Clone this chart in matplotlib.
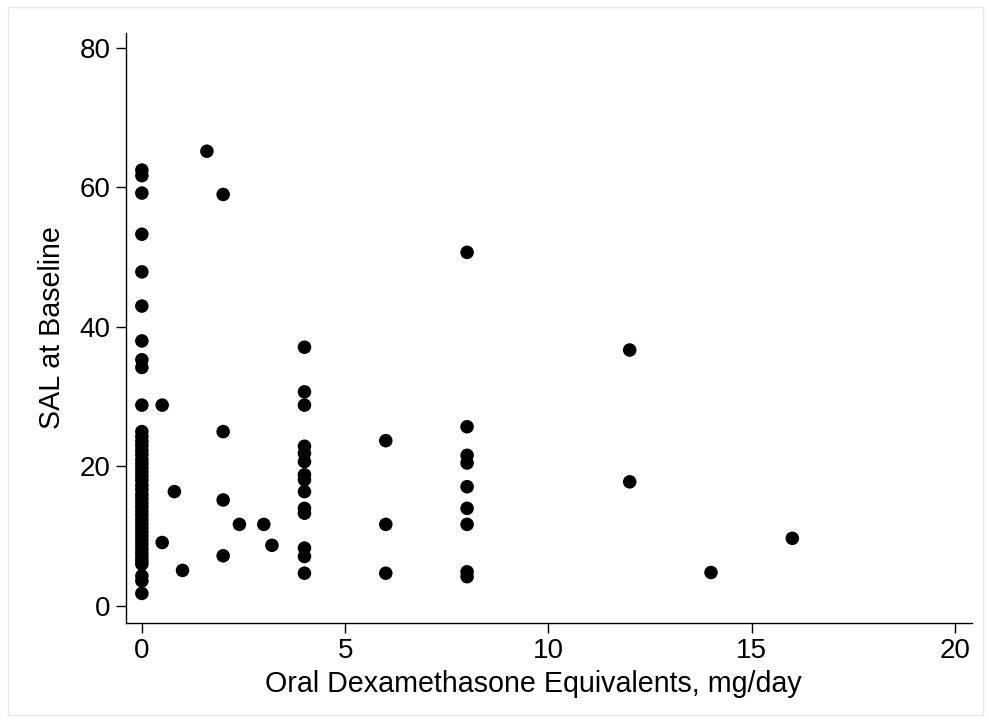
import matplotlib
matplotlib.use("Agg")
import matplotlib.pyplot as plt
from matplotlib.patches import Rectangle

plt.rcParams['font.family'] = ['Liberation Sans', 'DejaVu Sans']

# Oral dexamethasone equivalents (mg/day) and SAL at baseline
dose_zero_sal = [62.5, 61.7, 59.2, 53.3, 47.9, 43.0, 38.0, 35.3, 34.2, 28.8,
                 25.0, 24.3, 23.6, 23.0, 22.3, 21.7, 21.0, 20.4, 19.8, 19.2,
                 18.6, 18.0, 17.3, 16.7, 16.0, 15.4, 14.8, 14.2, 13.6, 13.0,
                 12.4, 11.8, 11.2, 10.6, 10.0, 9.4, 8.8, 8.2, 7.6, 7.0,
                 6.5, 6.0, 4.3, 3.6, 1.8]
other_dose = [0.5, 0.5, 0.8, 1.0, 1.6, 2, 2, 2, 2, 2.4, 3.0, 3.2,
              4, 4, 4, 4, 4, 4, 4, 4, 4, 4, 4, 4, 4, 4,
              6, 6, 6,
              8, 8, 8, 8, 8, 8, 8, 8, 8,
              12, 12, 14, 16]
other_sal = [28.8, 9.1, 16.4, 5.1, 65.2, 59.0, 25.0, 15.2, 7.2, 11.7, 11.7, 8.7,
             37.1, 30.7, 28.8, 22.9, 21.9, 20.7, 18.8, 18.1, 16.4, 14.0, 13.3, 8.3, 7.1, 4.7,
             23.7, 11.7, 4.7,
             50.7, 25.7, 21.6, 20.5, 17.1, 14.0, 11.7, 4.9, 4.2,
             36.7, 17.8, 4.8, 9.7]

dose = [0.0] * len(dose_zero_sal) + other_dose
sal = dose_zero_sal + other_sal

xticks = [0, 5, 10, 15, 20]
yticks = [0, 20, 40, 60, 80]

fig = plt.figure(figsize=(9.89, 7.22), dpi=100)
fig.patches.append(Rectangle((8/989, 7/722), 975/989, 708/722, transform=fig.transFigure,
                             fill=False, edgecolor='#e4eaec', linewidth=1.0))
ax = fig.add_axes([126/989, 1 - 623/722, (972 - 126)/989, (623 - 33)/722])

ax.scatter(dose, sal, s=95, color='black', edgecolors='none', zorder=3)

ax.set_xlim(-0.39, 20.42)
ax.set_ylim(-2.44, 82.15)
ax.set_xticks(xticks)
ax.set_yticks(yticks)
ax.set_xticklabels([str(t) for t in xticks])
ax.set_yticklabels([str(t) for t in yticks])

for s in ['top', 'right']:
    ax.spines[s].set_visible(False)
for s in ['left', 'bottom']:
    ax.spines[s].set_linewidth(1.0)
    ax.spines[s].set_color('black')

ax.tick_params(axis='both', direction='out', length=7, width=1.0, labelsize=20, pad=4, colors='black')

ax.set_xlabel('Oral Dexamethasone Equivalents, mg/day', fontsize=20.6, labelpad=0)
ax.xaxis.set_label_coords(0.482, -0.080, transform=ax.transAxes)
ax.xaxis.label.set_va('top')
ax.set_ylabel('SAL at Baseline', fontsize=20.6, labelpad=10)

fig.savefig('out.png', dpi=100, facecolor='white')
